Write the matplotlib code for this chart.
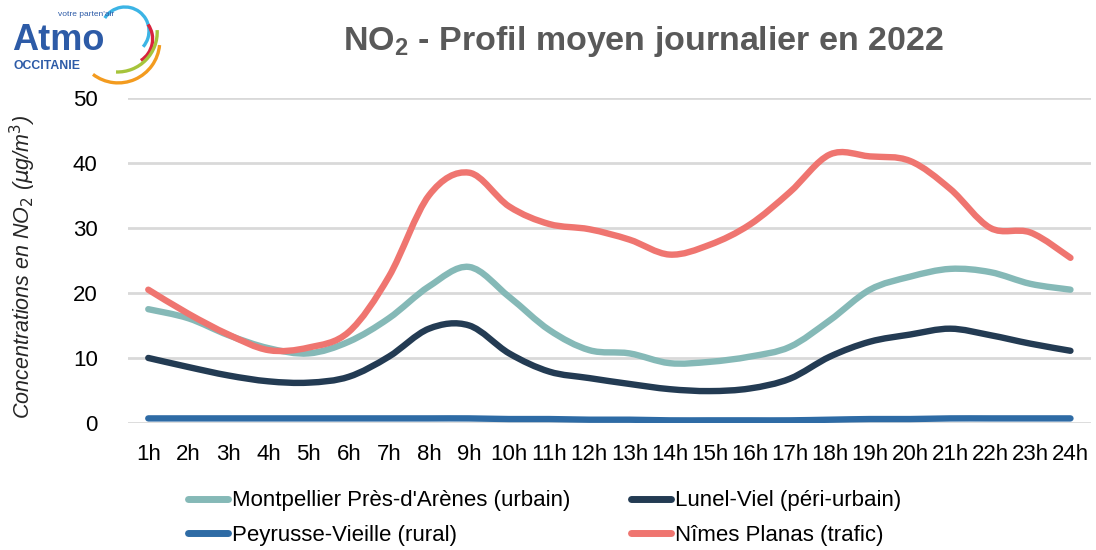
import numpy as np
import matplotlib
matplotlib.use("Agg")
import matplotlib.pyplot as plt
from matplotlib.path import Path
from matplotlib.patches import PathPatch, Arc
from matplotlib.lines import Line2D
from matplotlib import font_manager

hours = ["1h", "2h", "3h", "4h", "5h", "6h", "7h", "8h", "9h", "10h", "11h", "12h",
         "13h", "14h", "15h", "16h", "17h", "18h", "19h", "20h", "21h", "22h", "23h", "24h"]
montpellier = [17.5, 16.1, 13.5, 11.5, 10.7, 12.5, 16.1, 21.0, 24.0, 19.4, 14.3, 11.2,
               10.7, 9.2, 9.4, 10.2, 11.7, 15.8, 20.5, 22.5, 23.7, 23.2, 21.4, 20.5]
lunel = [10.0, 8.6, 7.3, 6.4, 6.2, 7.1, 10.2, 14.5, 15.0, 10.7, 7.9, 6.9,
         6.0, 5.2, 4.9, 5.3, 6.8, 10.2, 12.5, 13.6, 14.5, 13.5, 12.2, 11.1]
peyrusse = [0.7, 0.7, 0.7, 0.7, 0.7, 0.7, 0.7, 0.7, 0.7, 0.6, 0.6, 0.5,
            0.5, 0.4, 0.4, 0.4, 0.4, 0.5, 0.6, 0.6, 0.7, 0.7, 0.7, 0.7]
nimes = [20.5, 16.8, 13.6, 11.2, 11.6, 14.0, 22.5, 35.0, 38.5, 33.3, 30.6, 29.8,
         28.2, 25.9, 27.4, 30.5, 35.5, 41.3, 41.0, 40.3, 36.0, 30.0, 29.3, 25.4]

series_names = ["Montpellier Près-d'Arènes (urbain)", "Lunel-Viel (péri-urbain)",
                "Peyrusse-Vieille (rural)", "Nîmes Planas (trafic)"]
series_colors = ["#85b9b7", "#233b53", "#2e6ba5", "#ef7570"]

avail = {f.name for f in font_manager.fontManager.ttflist}
narrow = "Liberation Sans Narrow" if "Liberation Sans Narrow" in avail else "Liberation Sans"

fig = plt.figure(figsize=(10.96, 5.5), dpi=100)
ax = fig.add_axes([0.117, 0.231, 0.878, 0.591])

x = np.arange(1, len(hours) + 1)

def smooth_path(xs, ys):
    pts = np.column_stack([xs, ys]).astype(float)
    n = len(pts)
    verts = [pts[0]]
    codes = [Path.MOVETO]
    for i in range(n - 1):
        p0 = pts[i - 1] if i > 0 else pts[i]
        p1 = pts[i]
        p2 = pts[i + 1]
        p3 = pts[i + 2] if i + 2 < n else pts[i + 1]
        c1 = p1 + (p2 - p0) / 6.0
        c2 = p2 - (p3 - p1) / 6.0
        verts += [c1, c2, p2]
        codes += [Path.CURVE4] * 3
    return Path(verts, codes)

data = [montpellier, lunel, peyrusse, nimes]
order = [2, 1, 0, 3]
for k in order:
    p = smooth_path(x, data[k])
    patch = PathPatch(p, facecolor="none", edgecolor=series_colors[k], lw=4.6,
                      capstyle="round", joinstyle="round", zorder=3)
    ax.add_patch(patch)

ax.set_xlim(0.5, 24.5)
ax.set_ylim(0, 50)
ax.set_yticks([0, 10, 20, 30, 40, 50])
ax.set_xticks(x)
ax.set_xticklabels(hours)
ax.yaxis.grid(True, color="#d9d9d9", lw=2)
ax.set_axisbelow(True)
for s in ax.spines.values():
    s.set_visible(False)
ax.tick_params(length=0, labelsize=16, pad=15)
ax.tick_params(axis="y", pad=22)
for lab in ax.get_xticklabels() + ax.get_yticklabels():
    lab.set_fontfamily(narrow)
    lab.set_color("black")

fig.text(0.021, 0.515, r"Concentrations en NO$_2$ ($\mu$g/m$^3$)", rotation=90,
         ha="center", va="center", fontsize=15.5, style="italic",
         family=narrow, color="#262626")
plt.rcParams["mathtext.fontset"] = "custom"
plt.rcParams["mathtext.rm"] = narrow + ":italic"
plt.rcParams["mathtext.it"] = narrow + ":italic"

fig.text(0.587, 0.925, r"NO$_\mathregular{2}$ - Profil moyen journalier en 2022", ha="center",
         va="center", fontsize=24.5, weight="bold", family=narrow, color="#595959")

leg_order = [0, 2, 1, 3]
handles = [Line2D([0], [0], color=series_colors[k], lw=5, solid_capstyle="round")
           for k in leg_order]
labels = [series_names[k] for k in leg_order]
leg = fig.legend(handles, labels, loc="center", bbox_to_anchor=(0.497, 0.058),
                 ncol=2, frameon=False, handlelength=1.8, handletextpad=0.2,
                 columnspacing=2.7, labelspacing=0.6,
                 prop={"family": narrow, "size": 16})

# Logo
W, H = 1096, 550
fig.text(12 / W, 1 - 50 / H, "Atmo", fontsize=26, weight="bold", color="#2d5ba7",
         family="Liberation Sans", ha="left", va="baseline")
fig.text(13 / W, 1 - 69 / H, "OCCITANIE", fontsize=8.8, weight="bold", color="#2d5ba7",
         family="Liberation Sans", ha="left", va="baseline")
fig.text(58 / W, 1 - 16 / H, "votre parten'air", fontsize=6, color="#2d5ba7",
         family="Liberation Sans", ha="left", va="baseline")
arcs = [((125, 31), 24, -60, 128, "#3cb4e5"),
        ((127, 39), 25.6, -72, 54, "#d8233e"),
        ((117.4, 32.2), 39.8, -91, 6, "#a6c43b"),
        ((118.2, 41.4), 41.5, -111, -10, "#f39b1f")]
for (cx, cy), r, a1, a2, col in arcs:
    arc = Arc((cx / W, 1 - cy / H), 2 * r / W, 2 * r / H, theta1=a1, theta2=a2,
              transform=fig.transFigure, color=col, lw=2.4)
    fig.add_artist(arc)

fig.savefig("out.png", dpi=100)
